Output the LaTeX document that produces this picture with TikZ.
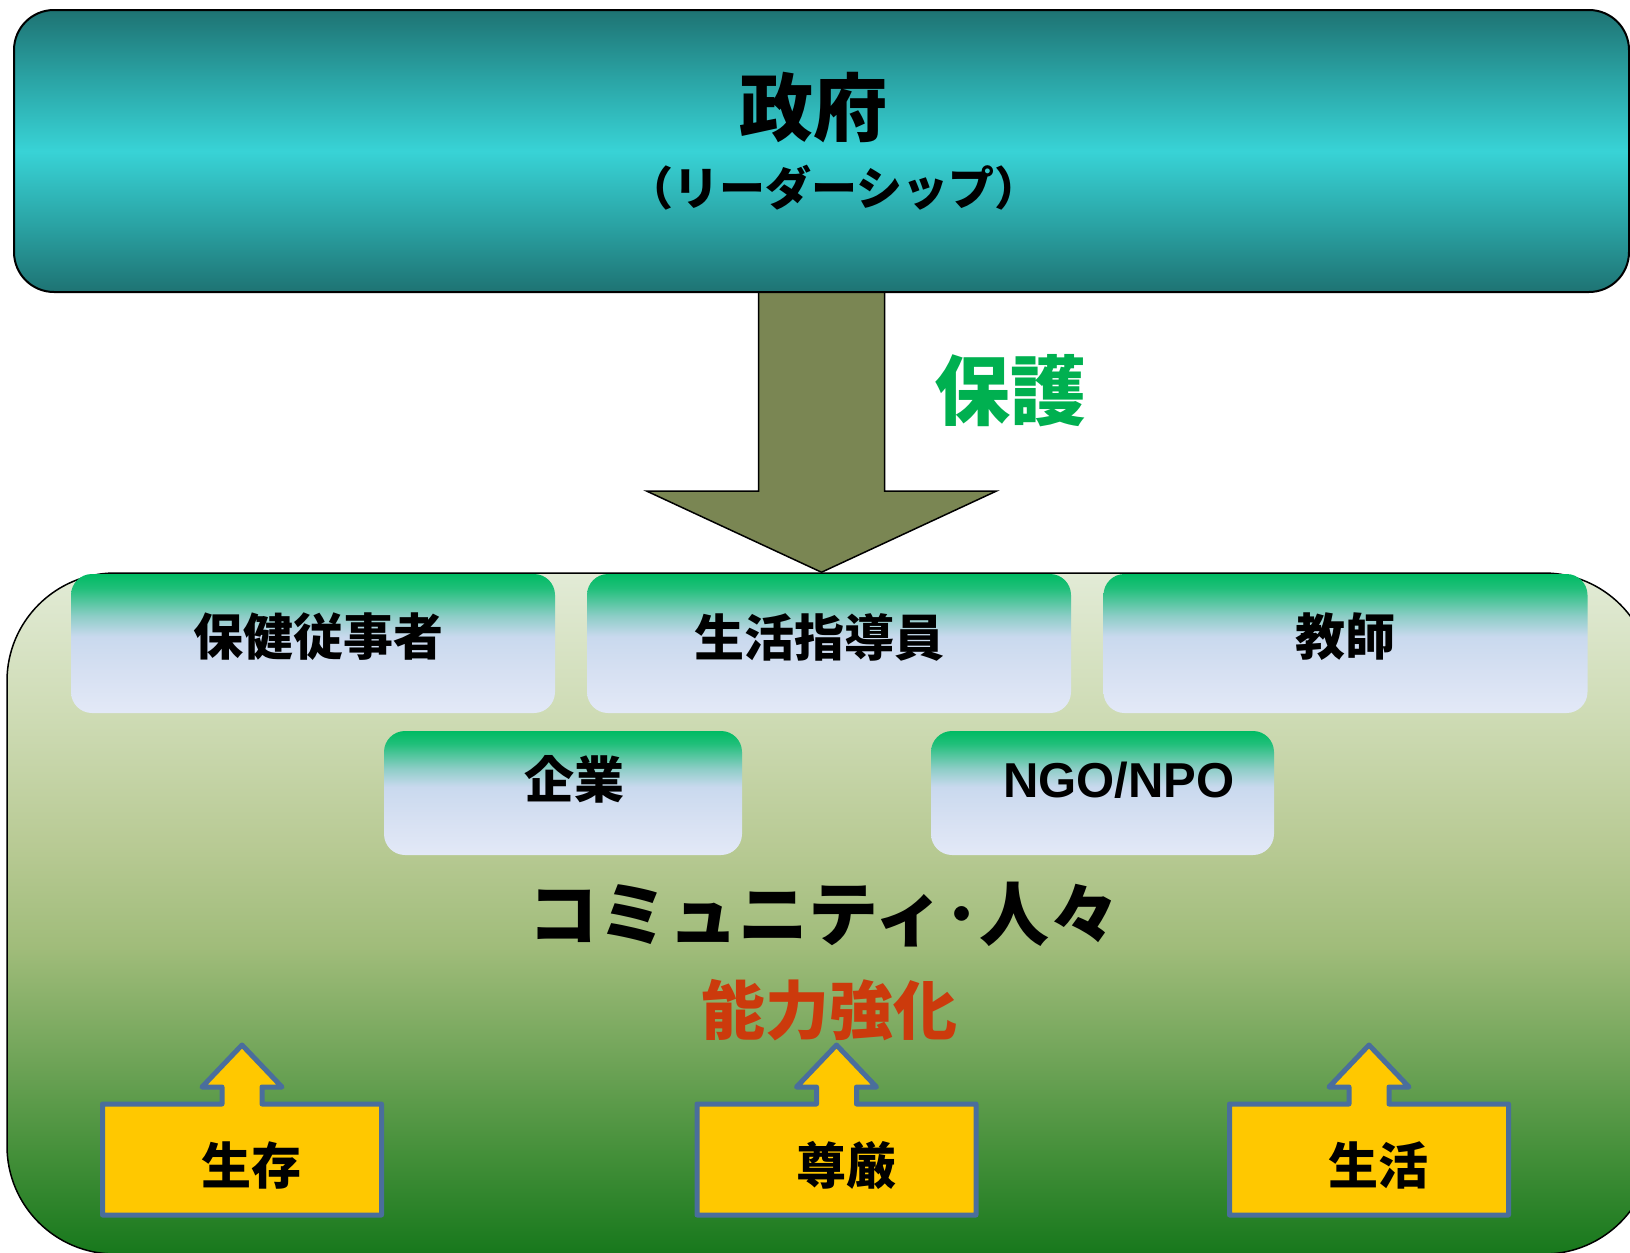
\documentclass[tikz,border=0pt]{standalone}
\usepackage{fontspec}
\setmainfont{Noto Sans CJK JP}
\newfontfamily\latinfont{Liberation Sans}
\usetikzlibrary{calc}
\pgfdeclarelayer{bg}
\pgfsetlayers{bg,main}
\definecolor{govdark}{HTML}{1E7373}
\definecolor{govmid}{HTML}{2AA3A4}
\definecolor{govlight}{HTML}{38D3D6}
\definecolor{arrowfill}{HTML}{7A8653}
\definecolor{hogocol}{HTML}{00B050}
\definecolor{capcol}{HTML}{CC3A0C}
\definecolor{callfill}{HTML}{FFC800}
\definecolor{calldraw}{HTML}{4A6E9C}
\definecolor{cA}{HTML}{E2EBD6}
\definecolor{cB}{HTML}{CFDCB6}
\definecolor{cC}{HTML}{B8CA94}
\definecolor{cD}{HTML}{A0BC7A}
\definecolor{cE}{HTML}{74A65B}
\definecolor{cF}{HTML}{45903A}
\definecolor{cG}{HTML}{17781C}
\definecolor{gA}{HTML}{00BB63}
\definecolor{gB}{HTML}{1FBF79}
\definecolor{gC}{HTML}{8CCDC6}
\definecolor{gD}{HTML}{C9D9EE}
\definecolor{gE}{HTML}{D6E0F2}
\definecolor{gF}{HTML}{E3E9F7}
\pgfdeclareverticalshading{govshade}{100bp}{color(0bp)=(govdark); color(25bp)=(govdark); color(37bp)=(govmid); color(50bp)=(govlight); color(63bp)=(govmid); color(75bp)=(govdark); color(100bp)=(govdark)}
\pgfdeclareverticalshading{commshade}{100bp}{color(0bp)=(cG); color(25bp)=(cG); color(32.5bp)=(cF); color(40bp)=(cE); color(47.5bp)=(cD); color(55bp)=(cC); color(65bp)=(cB); color(75bp)=(cA); color(100bp)=(cA)}
\pgfdeclareverticalshading{boxshade}{100bp}{color(0bp)=(gF); color(25bp)=(gF); color(40bp)=(gE); color(52.5bp)=(gD); color(60bp)=(gC); color(70bp)=(gB); color(75bp)=(gA); color(100bp)=(gA)}
\begin{document}
\begin{tikzpicture}[x=0.5pt,y=-0.5pt,
  govbox/.style={draw=black, line width=1pt, rounded corners=20pt, shading=govshade, inner sep=0pt},
  commbox/.style={draw=black, line width=0.75pt, rounded corners=54pt, shading=commshade, inner sep=0pt},
  rolebox/.style={rounded corners=10.5pt, shading=boxshade, inner sep=0pt, minimum height=69.5pt, minimum width=242pt},
  rolebox2/.style={rounded corners=10.5pt, shading=boxshade, inner sep=0pt, minimum height=62pt},
  bigarrow/.style={draw=black, line width=0.75pt, fill=arrowfill, line join=miter},
  callout/.style={draw=calldraw, line width=2.5pt, fill=callfill, line join=round},
  txt/.style={inner sep=0pt, font=\bfseries\fontsize{25pt}{30pt}\selectfont, text=black}
]
\useasboundingbox (0,0) rectangle (1630,1253);
\clip (0,0) rectangle (1630,1253);

% government box
\node[govbox, minimum width=807.5pt, minimum height=141pt] (gov) at (821.5,151) {};
\node[inner sep=0pt, font=\bfseries\fontsize{37pt}{44pt}\selectfont] (govt) at (813,108) {政府};
\node[inner sep=0pt, font=\bfseries\fontsize{23pt}{28pt}\selectfont] (lead) at (834,188) {（リーダーシップ）};

% community box
\node[commbox, minimum width=822.5pt, minimum height=340.5pt] (comm) at (829.5,913.5) {};

% big arrow
\begin{pgfonlayer}{bg}
\draw[bigarrow] ($(gov.south)+(-63,-2)$) -- ($(gov.south)+(-63,198)$) -- ($(gov.south)+(-175,198)$)
  -- (gov.south |- comm.north) -- ($(gov.south)+(175,198)$) -- ($(gov.south)+(63,198)$)
  -- ($(gov.south)+(63,-2)$) -- cycle;
\end{pgfonlayer}
\node[inner sep=0pt, text=hogocol, font=\bfseries\fontsize{38pt}{44pt}\selectfont] (hogo) at (1010,391) {保護};

% role boxes
\node[rolebox] (hw) at (313,643.5) {};
\node[rolebox] (lg) at (829,643.5) {};
\node[rolebox] (te) at (1345.5,643.5) {};
\node[rolebox2, minimum width=179pt] (en) at (563,793) {};
\node[rolebox2, minimum width=171.5pt] (ngo) at (1102.5,793) {};
\node[txt] (hwt) at (318,637) {保健従事者};
\node[txt] (lgt) at (819,637) {生活指導員};
\node[txt] (tet) at (1345,637) {教師};
\node[txt] (ent) at (574,779) {企業};
\node[inner sep=0pt, font=\latinfont\bfseries\fontsize{24.5pt}{30pt}\selectfont] (ngot) at (1119,780) {NGO/NPO};

% community texts
\node[inner sep=0pt, font=\bfseries\fontsize{35pt}{40pt}\selectfont] (people) at (824,915) {コミュニティ･人々};
\node[inner sep=0pt, text=capcol, font=\bfseries\fontsize{32pt}{38pt}\selectfont] (cap) at (829,1010) {能力強化};

% callouts
\foreach \cx/\nm/\tx/\tcx in {242/c1/生存/251, 836.5/c2/尊厳/846, 1369/c3/生活/1378} {
  \draw[callout] (\cx-139.5,1215) -- (\cx-139.5,1104) -- (\cx-20,1104) -- (\cx-20,1087) -- (\cx-40,1087)
    -- (\cx,1045) -- (\cx+40,1087) -- (\cx+20,1087) -- (\cx+20,1104) -- (\cx+139.5,1104)
    -- (\cx+139.5,1215) -- cycle;
  \node[txt] (\nm) at (\tcx,1165) {\tx};
}
\end{tikzpicture}
\end{document}
